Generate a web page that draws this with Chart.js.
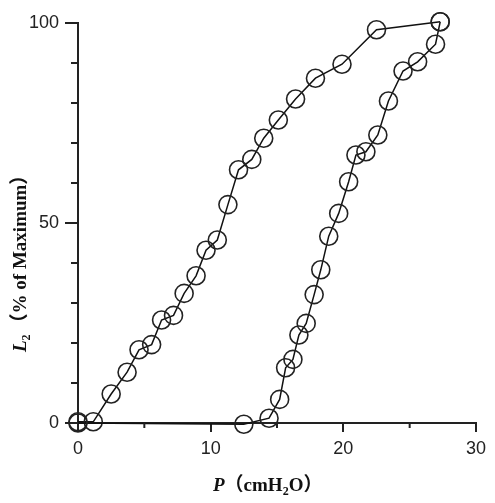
<!DOCTYPE html>
<html>
<head>
<meta charset="utf-8">
<script src="https://cdn.jsdelivr.net/npm/chart.js@4/dist/chart.umd.min.js"></script>
<style>
  body { margin: 0; background: #fff; }
  canvas { display: block; }
</style>
</head>
<body>
<canvas id="loopChart" width="495" height="503"></canvas>
<script>
// pressure (cmH2O) and L2 (% of maximum)
const inflP = [0, 12.5, 14.4, 15.2, 15.65, 16.2, 16.65, 17.2, 17.8, 18.3, 18.9, 19.65, 20.4, 20.95, 21.7, 22.6, 23.4, 24.5, 25.6, 26.95, 27.3];
const inflL = [0, -0.3, 1.2, 5.9, 13.8, 15.9, 22, 24.9, 32.1, 38.3, 46.7, 52.4, 60.3, 67, 67.8, 72, 80.5, 88, 90.3, 94.7, 100.3];
const deflP = [27.3, 22.5, 19.9, 17.9, 16.4, 15.1, 14.0, 13.1, 12.1, 11.3, 10.5, 9.65, 8.9, 8.0, 7.2, 6.3, 5.55, 4.6, 3.7, 2.5, 1.15, 0];
const deflL = [100.3, 98.3, 89.7, 86.2, 81, 75.75, 71.2, 65.9, 63.3, 54.6, 45.75, 43.2, 36.8, 32.4, 26.9, 25.75, 19.6, 18.3, 12.7, 7.25, 0.3, 0.3];
const xMajor = [0, 10, 20, 30];
const yMajor = [0, 50, 100];

const toPoints = (xs, ys) => xs.map((x, i) => ({ x: x, y: ys[i] }));

const lineStyle = {
  borderColor: "#111",
  borderWidth: 1.5,
  pointRadius: 9,
  pointHoverRadius: 9,
  pointBorderWidth: 1.6,
  pointBorderColor: "#222",
  pointBackgroundColor: "rgba(0,0,0,0)",
  tension: 0,
  clip: false
};

// short minor tick marks + the mixed-font axis titles
const extras = {
  id: "extras",
  afterDraw(chart) {
    const c = chart.ctx;
    const xs = chart.scales.x, ys = chart.scales.y;
    const area = chart.chartArea;
    c.save();
    c.strokeStyle = "#222";
    c.lineWidth = 2;
    xs.ticks.forEach(t => {
      if (xMajor.includes(t.value)) return;
      const px = xs.getPixelForValue(t.value);
      c.beginPath(); c.moveTo(px, area.bottom); c.lineTo(px, area.bottom + 5); c.stroke();
    });
    ys.ticks.forEach(t => {
      if (yMajor.includes(t.value)) return;
      const py = ys.getPixelForValue(t.value);
      c.beginPath(); c.moveTo(area.left, py); c.lineTo(area.left - 7, py); c.stroke();
    });

    c.fillStyle = "#111";
    c.textBaseline = "alphabetic";
    // x title: P (cmH2O)
    let x = 213, y = 491;
    c.font = "italic bold 19px 'Liberation Serif'";
    c.fillText("P", x, y); x += c.measureText("P").width;
    c.font = "bold 19px 'Liberation Serif', 'Noto Sans CJK SC'";
    c.fillText("（cmH", x, y); x += c.measureText("（cmH").width;
    c.font = "bold 12px 'Liberation Serif'";
    c.fillText("2", x, y + 4); x += c.measureText("2").width;
    c.font = "bold 19px 'Liberation Serif', 'Noto Sans CJK SC'";
    c.fillText("O）", x, y);

    // y title: L2 (% of Maximum), rotated
    c.translate(26, 352);
    c.rotate(-Math.PI / 2);
    x = 0; y = 0;
    c.font = "italic bold 19px 'Liberation Serif'";
    c.fillText("L", x, y); x += c.measureText("L").width;
    c.font = "bold 12px 'Liberation Serif'";
    c.fillText("2", x, y + 4); x += c.measureText("2").width + 2;
    c.font = "bold 19px 'Liberation Serif', 'Noto Sans CJK SC'";
    c.fillText("（% of Maximum）", x, y);
    c.restore();
  }
};

new Chart(document.getElementById("loopChart"), {
  type: "line",
  data: {
    datasets: [
      Object.assign({ label: "inflation", data: toPoints(inflP, inflL) }, lineStyle),
      Object.assign({ label: "deflation", data: toPoints(deflP, deflL) }, lineStyle)
    ]
  },
  options: {
    responsive: false,
    animation: false,
    layout: { padding: { top: 23, right: 19, left: 0, bottom: 0 } },
    plugins: { legend: { display: false }, tooltip: { enabled: false } },
    scales: {
      x: {
        type: "linear",
        min: 0,
        max: 30,
        afterFit(scale) { scale.height = 80; },
        border: { display: true, color: "#222", width: 2 },
        grid: {
          drawOnChartArea: false,
          tickLength: 9,
          lineWidth: 2,
          color: ctx => xMajor.includes(ctx.tick && ctx.tick.value) ? "#222" : "rgba(0,0,0,0)"
        },
        ticks: {
          stepSize: 5,
          padding: 6,
          color: "#222",
          font: { family: "'Liberation Sans'", size: 18 },
          callback: v => xMajor.includes(v) ? v : ""
        }
      },
      y: {
        min: 0,
        max: 100,
        afterFit(scale) { scale.width = 78; },
        border: { display: true, color: "#222", width: 2 },
        grid: {
          drawOnChartArea: false,
          tickLength: 13,
          lineWidth: 2,
          color: ctx => yMajor.includes(ctx.tick && ctx.tick.value) ? "#222" : "rgba(0,0,0,0)"
        },
        ticks: {
          stepSize: 10,
          padding: 6,
          color: "#222",
          font: { family: "'Liberation Sans'", size: 18 },
          callback: v => yMajor.includes(v) ? v : ""
        }
      }
    }
  },
  plugins: [extras]
});
</script>
</body>
</html>
